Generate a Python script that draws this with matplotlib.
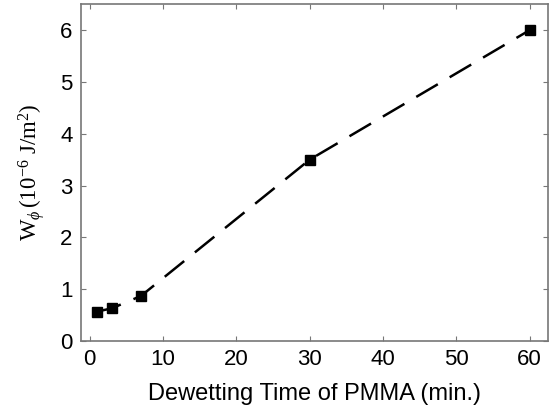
import matplotlib
matplotlib.use("Agg")
import matplotlib.pyplot as plt

time_min = [1, 3, 7, 30, 60]
w_phi = [0.57, 0.63, 0.87, 3.5, 6.0]
x_ticks = [0, 10, 20, 30, 40, 50, 60]
y_ticks = [0, 1, 2, 3, 4, 5, 6]

plt.rcParams['font.family'] = ['Liberation Sans', 'DejaVu Sans']
plt.rcParams['mathtext.fontset'] = 'custom'
plt.rcParams['mathtext.rm'] = 'Liberation Serif'
plt.rcParams['mathtext.it'] = 'Liberation Serif:italic'

fig = plt.figure(figsize=(5.57, 4.18), dpi=100)
ax = fig.add_axes([0.145, 0.184, 0.839, 0.806])
ax.plot(time_min, w_phi, color='black', linestyle=(0, (10, 5.5)), linewidth=1.8,
        marker='s', markersize=6.5, markerfacecolor='black', markeredgecolor='black')
ax.set_xlim(-1.2, 62.5)
ax.set_ylim(0, 6.5)
ax.set_xticks(x_ticks)
ax.set_yticks(y_ticks)
ax.tick_params(direction='in', top=True, right=True, labelsize=16, length=3.5, width=0.8,
               colors='#777777', labelcolor='black', pad=6)
for s in ax.spines.values():
    s.set_color('#777777')
    s.set_linewidth(1.2)
ax.set_xlabel('Dewetting Time of PMMA (min.)', fontsize=17, labelpad=9)
ax.set_ylabel(r'$\mathrm{W}_{\phi}\,\mathrm{(10^{-6}\ J/m^{2})}$', fontsize=16.5, labelpad=9)
fig.savefig('out.png', dpi=100)
